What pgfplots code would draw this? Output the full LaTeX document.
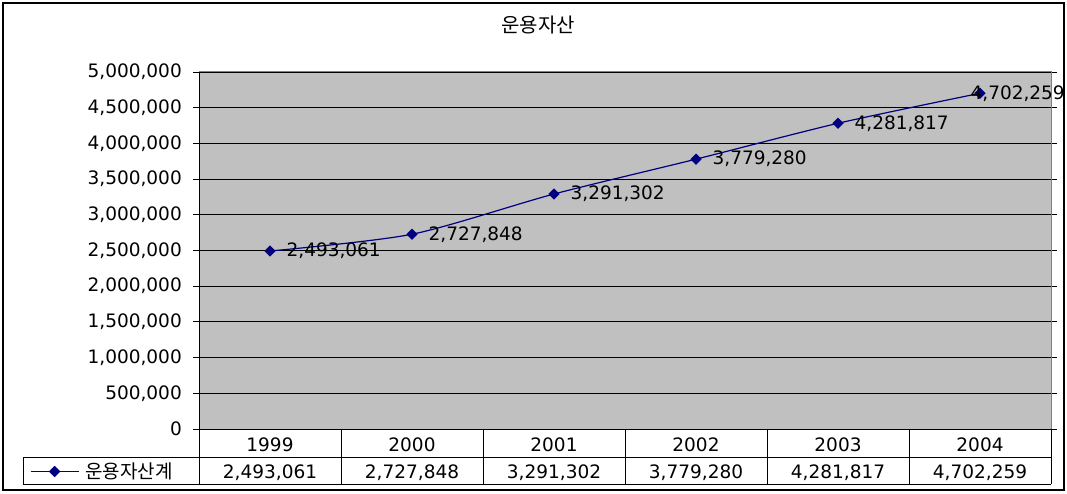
\documentclass[border=0pt]{standalone}
\usepackage{fontspec}
\setmainfont{DejaVu Sans}
\newfontfamily\kr{Noto Sans CJK KR}
\usepackage{pgfplots}
\usepackage{pgfplotstable}
\pgfplotsset{compat=1.18}
\definecolor{plotgray}{HTML}{C0C0C0}
\definecolor{navyline}{HTML}{000080}
\definecolor{edgegray}{HTML}{808080}

\pgfplotstableread{
x y dx lbl
0 2493061 16 2,493,061
1 2727848 16 2,727,848
2 3291302 16 3,291,302
3 3779280 16 3,779,280
4 4281817 16 4,281,817
5 4702259 -10 4,702,259
}\datatable

\begin{document}
\begin{tikzpicture}
\useasboundingbox (0pt,0pt) rectangle (1067pt,493pt);
\begin{axis}[
  at={(199pt,64pt)}, anchor=south west,
  scale only axis, width=852pt, height=357pt,
  xmin=-0.5, xmax=5.5, ymin=0, ymax=5000000,
  clip=false,
  axis background/.style={fill=plotgray},
  axis line style={draw=none},
  ytick={0,500000,...,5000000},
  scaled y ticks=false,
  yticklabel={\pgfmathprintnumber{\tick}},
  /pgf/number format/fixed,
  /pgf/number format/precision=0,
  /pgf/number format/1000 sep={,},
  /pgf/number format/assume math mode=true,
  ymajorgrids,
  major grid style={black, line width=0.9pt},
  ytick style={black, line width=0.9pt},
  tick align=outside,
  major tick length=6pt,
  xtick={0,1,2,3,4,5},
  xticklabels={1999,2000,2001,2002,2003,2004},
  xtick style={draw=none},
  xticklabel style={anchor=center, yshift=-10pt, inner sep=0pt},
  extra x ticks={0,1,2,3,4,5},
  extra x tick labels={{2,493,061},{2,727,848},{3,291,302},{3,779,280},{4,281,817},{4,702,259}},
  extra x tick style={xtick style={draw=none}, xticklabel style={yshift=-27.5pt}},
  tick label style={font=\fontsize{18.5}{22}\selectfont, text=black},
  yticklabel style={anchor=east, inner sep=0pt, xshift=-11pt},
  legend style={at={(axis description cs:0,0)}, anchor=west, xshift=-169pt, yshift=-42.5pt,
    draw=none, fill=none, inner sep=0pt, outer sep=0pt,
    font=\kr\fontsize{19}{22}\selectfont},
  legend image code/.code={\draw[mark repeat=2,mark phase=2,#1] plot coordinates {(0pt,0pt) (24pt,0pt) (48pt,0pt)};},
]
\addplot[navyline, line width=1.2pt, smooth, tension=0.45,
  mark=square*, mark size=3.4pt, mark options={rotate=45, solid, fill=navyline},
  point meta=explicit symbolic,
  visualization depends on={\thisrow{dx} \as \dx},
  nodes near coords={\pgfplotspointmeta},
  nodes near coords style={anchor=west, inner sep=0pt, xshift=\dx pt, yshift=0pt,
    font=\fontsize{18.5}{22}\selectfont, text=black},
] table[x=x, y=y, meta=lbl] {\datatable};
\addlegendentry{\hspace{4pt}운용자산계}
\end{axis}
% plot area edges
\draw[edgegray, line width=1pt] (199pt,421pt) -- (1051pt,421pt) -- (1051pt,64pt);
\draw[black, line width=1pt] (199pt,421pt) -- (199pt,64pt);
% data table grid
\draw[black, line width=0.9pt] (199pt,64pt) -- (1051pt,64pt);
\draw[black, line width=0.9pt] (23pt,36pt) -- (1051pt,36pt);
\draw[black, line width=0.9pt] (23pt,9pt) -- (1051pt,9pt);
\draw[black, line width=0.9pt] (23pt,9pt) -- (23pt,36pt);
\foreach \xx in {199,341,483,625,767,909,1051} {
  \draw[black, line width=0.9pt] (\xx pt,9pt) -- (\xx pt,64pt);
}
% outer border
\draw[black, line width=1.6pt] (3pt,3pt) rectangle (1064pt,490pt);
% title
\node[font=\kr\fontsize{20}{24}\selectfont] at (538pt,468pt) {운용자산};
\end{tikzpicture}
\end{document}
